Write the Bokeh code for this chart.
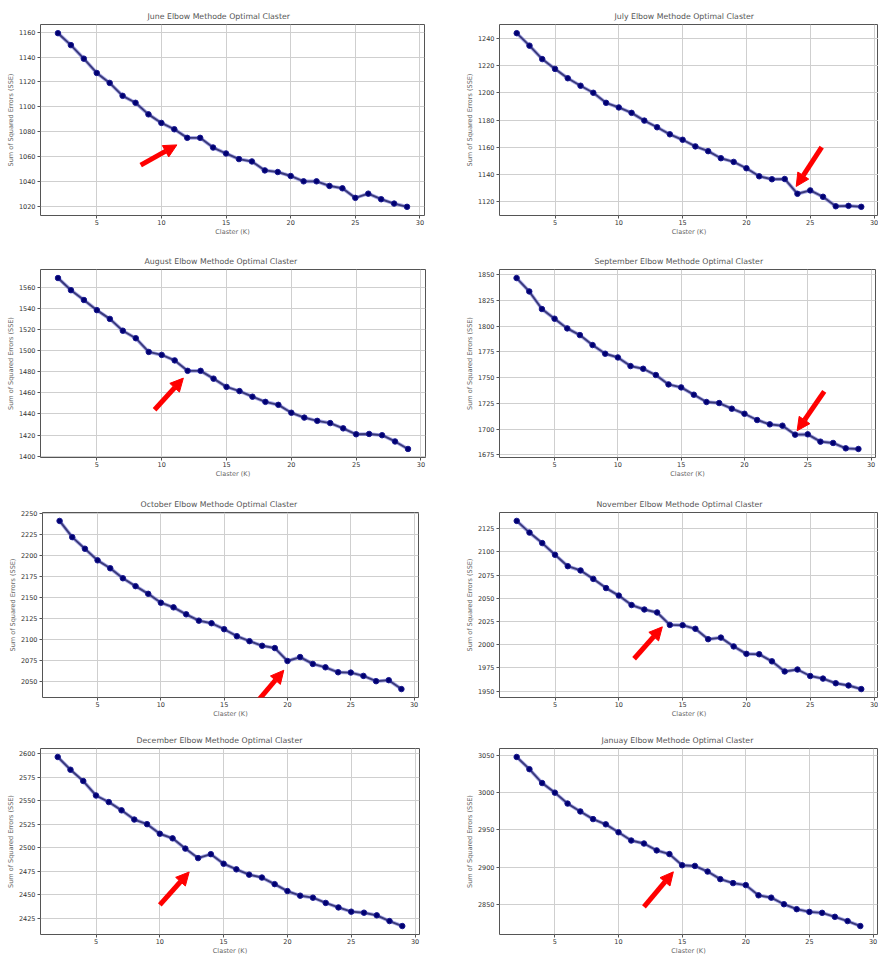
from bokeh.plotting import figure
from bokeh.layouts import column, row
from bokeh.models import Range1d, FixedTicker, Arrow, NormalHead
from bokeh.embed import file_html
from bokeh.resources import INLINE

# ---------------- data ----------------
k_values = list(range(2, 30))

titles = [
    "June Elbow Methode Optimal Claster",
    "July Elbow Methode Optimal Claster",
    "August Elbow Methode Optimal Claster",
    "September Elbow Methode Optimal Claster",
    "October Elbow Methode Optimal Claster",
    "November Elbow Methode Optimal Claster",
    "December Elbow Methode Optimal Claster",
    "Januay Elbow Methode Optimal Claster",
]

sse_june = [1159.2, 1149.6, 1138.7, 1127.2, 1119.2, 1108.8, 1103.2, 1093.9, 1087.0, 1081.9,
            1075.0, 1075.0, 1067.2, 1062.4, 1057.9, 1056.0, 1048.8, 1047.5, 1044.3, 1040.0,
            1040.0, 1036.3, 1034.4, 1026.7, 1030.1, 1025.6, 1022.1, 1019.5]
sse_july = [1244.0, 1234.8, 1224.9, 1217.7, 1210.8, 1205.3, 1200.1, 1192.7, 1189.3, 1185.3,
            1179.6, 1174.7, 1169.5, 1165.5, 1160.6, 1157.1, 1151.9, 1149.2, 1144.5, 1138.6,
            1136.4, 1136.6, 1125.7, 1128.2, 1123.5, 1116.5, 1116.8, 1116.1]
sse_august = [1568.7, 1557.2, 1547.9, 1538.3, 1530.0, 1518.8, 1511.7, 1498.7, 1495.9, 1490.7,
              1480.8, 1480.8, 1473.4, 1465.6, 1461.6, 1456.3, 1451.4, 1448.6, 1441.1, 1436.5,
              1433.4, 1431.3, 1426.3, 1420.7, 1421.0, 1419.8, 1413.9, 1406.8]
sse_september = [1846.8, 1833.8, 1816.7, 1807.3, 1797.9, 1791.4, 1781.7, 1773.3, 1769.7, 1761.3,
                 1758.7, 1752.6, 1743.5, 1740.6, 1733.5, 1726.4, 1725.4, 1719.9, 1715.0, 1708.9,
                 1704.7, 1703.4, 1694.7, 1695.0, 1687.9, 1686.6, 1681.4, 1680.8]
sse_october = [2240.6, 2221.3, 2207.5, 2193.7, 2184.3, 2172.4, 2163.0, 2153.9, 2143.3, 2137.8,
               2129.5, 2122.0, 2118.9, 2111.8, 2103.5, 2097.6, 2092.1, 2089.4, 2074.0, 2078.7,
               2070.5, 2066.5, 2060.6, 2060.2, 2056.3, 2050.0, 2051.2, 2040.6]
sse_november = [2133.4, 2120.8, 2109.5, 2096.9, 2084.6, 2080.0, 2070.9, 2061.0, 2052.9, 2042.7,
                2037.9, 2034.7, 2021.3, 2021.0, 2017.1, 2005.9, 2007.6, 1998.1, 1990.1, 1989.7,
                1982.0, 1971.1, 1973.2, 1966.2, 1963.4, 1958.4, 1956.0, 1952.1]
sse_december = [2596.8, 2583.2, 2571.2, 2555.8, 2548.8, 2540.0, 2530.2, 2525.3, 2515.1, 2510.2,
                2499.3, 2489.2, 2493.4, 2483.2, 2477.2, 2471.6, 2468.5, 2461.5, 2454.1, 2449.2,
                2447.1, 2441.5, 2436.7, 2432.2, 2431.1, 2428.3, 2422.2, 2416.9]
sse_january = [3047.4, 3031.1, 3012.6, 2999.8, 2985.2, 2974.7, 2964.5, 2957.5, 2946.9, 2935.9,
               2931.9, 2922.7, 2917.8, 2902.9, 2902.0, 2894.5, 2884.4, 2879.1, 2876.4, 2862.8,
               2859.7, 2850.9, 2844.3, 2840.7, 2839.4, 2834.1, 2828.4, 2821.8]

series = [sse_june, sse_july, sse_august, sse_september,
          sse_october, sse_november, sse_december, sse_january]

x_ticks = [5, 10, 15, 20, 25, 30]
yticks_june = [1020, 1040, 1060, 1080, 1100, 1120, 1140, 1160]
yticks_july = [1120, 1140, 1160, 1180, 1200, 1220, 1240]
yticks_august = [1400, 1420, 1440, 1460, 1480, 1500, 1520, 1540, 1560]
yticks_september = [1675, 1700, 1725, 1750, 1775, 1800, 1825, 1850]
yticks_october = [2050, 2075, 2100, 2125, 2150, 2175, 2200, 2225, 2250]
yticks_november = [1950, 1975, 2000, 2025, 2050, 2075, 2100, 2125]
yticks_december = [2425, 2450, 2475, 2500, 2525, 2550, 2575, 2600]
yticks_january = [2850, 2900, 2950, 3000, 3050]
yticks = [yticks_june, yticks_july, yticks_august, yticks_september,
          yticks_october, yticks_november, yticks_december, yticks_january]

# elbow arrows (tail -> tip) in data coordinates
arrow_tail_x = [8.4, 25.9, 9.45, 26.3, 17.45, 11.2, 10.0, 12.0]
arrow_tail_y = [1053.0, 1160.0, 1443.9, 1736.7, 2022.8, 1984.8, 2439.4, 2847.4]
arrow_tip_x = [11.2, 23.9, 11.67, 24.16, 19.71, 13.41, 12.3, 14.31]
arrow_tip_y = [1069.3, 1131.1, 1473.9, 1698.5, 2063.0, 2019.2, 2474.4, 2894.1]

# ---------------- layout / style ----------------
col_widths = [440, 438]
row_heights = [240, 240, 240, 237]
# (left, right, top, bottom) minimum borders per panel
borders = [
    (40, 16, 24, 25), (59, 0, 24, 25),
    (40, 15, 29, 22), (59, 3, 29, 22),
    (42, 22, 32, 20), (59, 0, 32, 20),
    (40, 21, 28, 21), (59, 1, 28, 21),
]
title_offsets = [107, 115, 104, 95, 98, 97, 96, 102]

FONT = "DejaVu Sans"
figs = []
for i in range(8):
    vals = series[i]
    lo, hi = min(vals), max(vals)
    pad = (hi - lo) * 0.05
    bl, br, bt, bb = borders[i]
    p = figure(width=col_widths[i % 2], height=row_heights[i // 2],
               output_backend="svg", toolbar_location=None,
               x_range=Range1d(0.65, 30.35), y_range=Range1d(lo - pad, hi + pad),
               min_border_left=bl, min_border_right=br,
               min_border_top=bt, min_border_bottom=bb)
    p.title.text = titles[i]
    p.title.text_font = FONT
    p.title.text_font_size = "7.8px"
    p.title.text_font_style = "normal"
    p.title.text_color = "#555555"
    p.title.align = "left"
    p.title.offset = title_offsets[i]
    p.title.standoff = 8

    p.line(k_values, vals, line_color="#7070d8", line_width=3.6, line_alpha=0.6)
    p.line(k_values, vals, line_color="#3a3a7a", line_width=1.9)
    p.scatter(k_values, vals, size=5.5, fill_color="#000070", line_color="#1a1a90")

    p.add_layout(Arrow(x_start=arrow_tail_x[i], y_start=arrow_tail_y[i],
                       x_end=arrow_tip_x[i], y_end=arrow_tip_y[i],
                       line_color="#ff0000", line_width=5,
                       end=NormalHead(size=13, fill_color="#ff0000",
                                      line_color="#ff0000", line_width=1)))

    p.xaxis.ticker = FixedTicker(ticks=x_ticks)
    p.yaxis.ticker = FixedTicker(ticks=yticks[i])
    p.xaxis.axis_label = "Claster (K)"
    p.yaxis.axis_label = "Sum of Squared Errors (SSE)"
    for ax in (p.xaxis, p.yaxis):
        ax.axis_label_text_font = FONT
        ax.axis_label_text_font_size = "6.5px"
        ax.axis_label_text_font_style = "normal"
        ax.axis_label_text_color = "#666666"
        ax.axis_label_standoff = 1
        ax.major_label_text_font = FONT
        ax.major_label_text_font_size = "6.5px"
        ax.major_label_text_color = "#333333"
        ax.major_label_standoff = 2
        ax.major_tick_out = 3
        ax.major_tick_in = 0
        ax.major_tick_line_color = "#555555"
        ax.minor_tick_line_color = None
        ax.axis_line_color = None
    p.xaxis.axis_label_standoff = 0
    p.xaxis.major_label_standoff = 1
    p.grid.grid_line_color = "#cfcfcf"
    p.grid.grid_line_width = 1
    p.outline_line_color = "#555555"
    p.outline_line_width = 1
    p.background_fill_color = "white"
    figs.append(p)

layout = column(row(figs[0], figs[1]), row(figs[2], figs[3]),
                row(figs[4], figs[5]), row(figs[6], figs[7]))

open("out.html", "w").write(file_html(layout, INLINE))
